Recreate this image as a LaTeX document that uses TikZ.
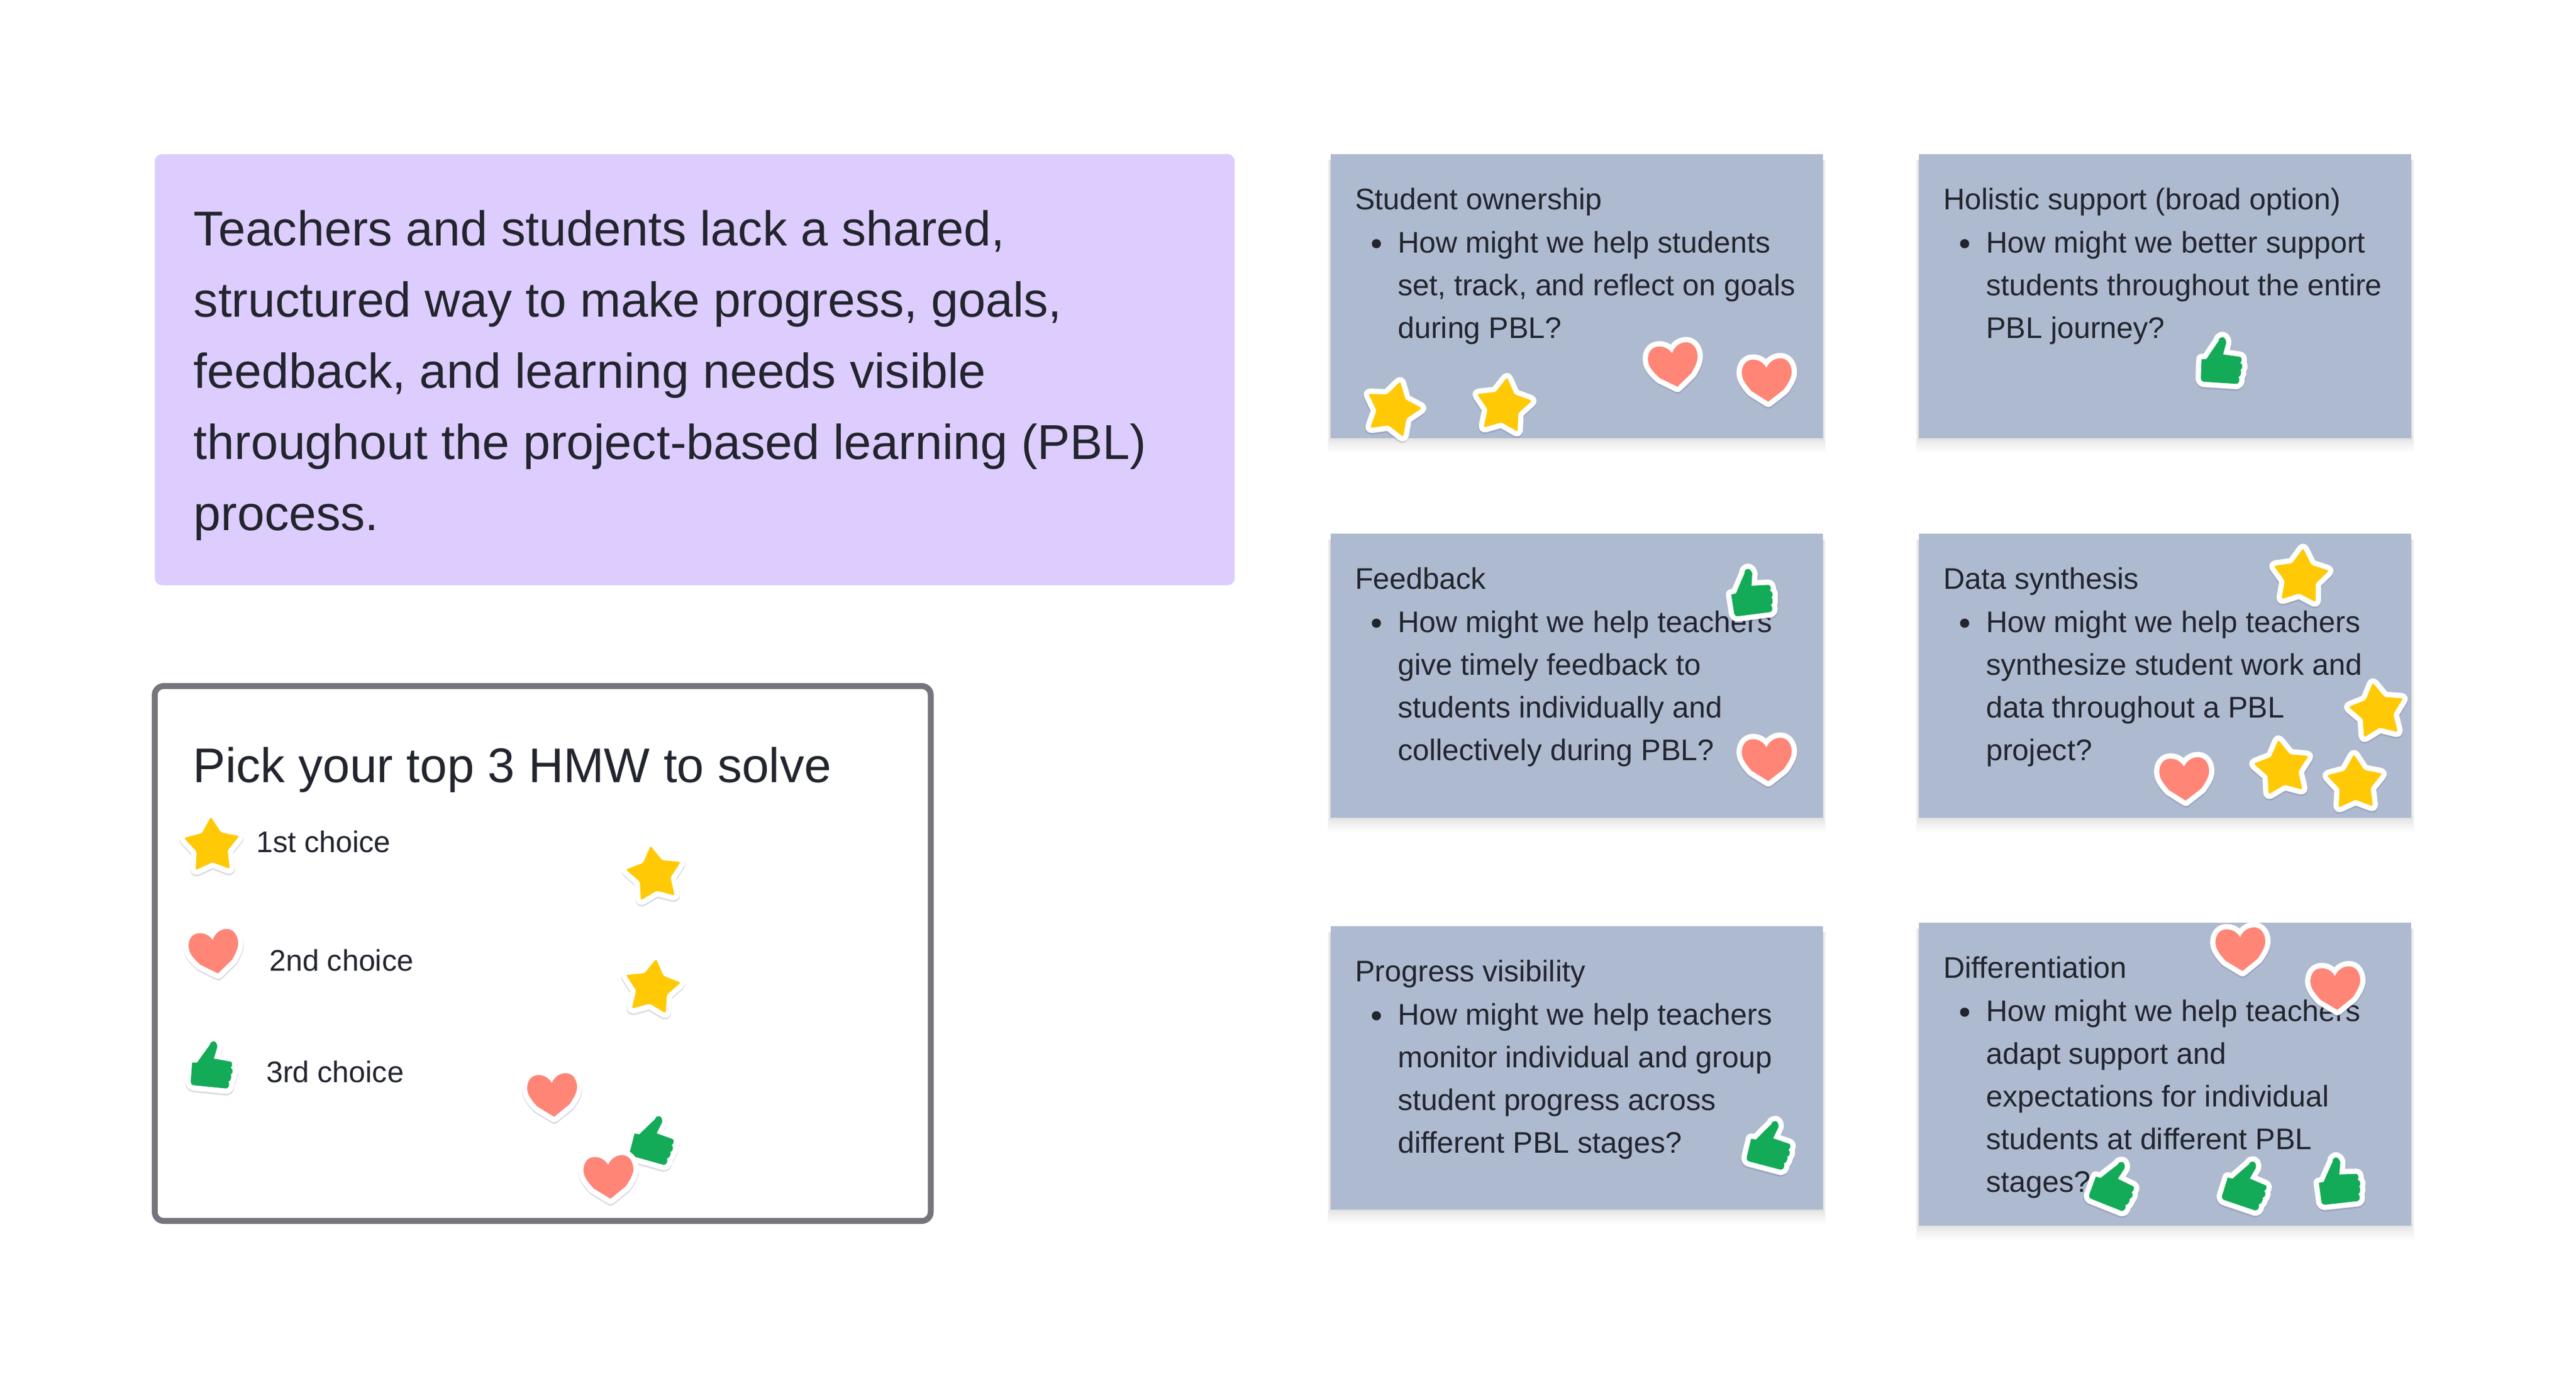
\documentclass[tikz,border=0pt]{standalone}
\usepackage{fontspec}
\setmainfont{Liberation Sans}
\usepackage{xcolor}
\definecolor{ink}{RGB}{34,37,46}
\definecolor{lilac}{RGB}{221,205,255}
\definecolor{slate}{RGB}{174,186,207}
\definecolor{rim}{RGB}{117,117,126}
\definecolor{gold}{RGB}{255,201,5}
\definecolor{coral}{RGB}{255,133,119}
\definecolor{leaf}{RGB}{20,171,88}
\definecolor{halo}{RGB}{90,85,130}
\usetikzlibrary{backgrounds}

\newcommand{\cardfont}{\fontsize{14.3}{20.49}\selectfont}
\newcommand{\bigfont}{\fontsize{23.5}{34.14}\selectfont}
\newcommand{\pickfont}{\fontsize{23.35}{34.14}\selectfont}
\newcommand{\starpath}{(90:.49)--(126:.275)--(162:.49)--(198:.275)--(234:.49)--(270:.275)--(306:.49)--(342:.275)--(18:.49)--(54:.275)--cycle}
\newcommand{\heartpath}{(0,.21) .. controls (.05,.31) and (.14,.36) .. (.23,.36) .. controls (.35,.36) and (.42,.26) .. (.42,.13) .. controls (.42,.02) and (.34,-.08) .. (.27,-.17) -- (0,-.36) -- (-.27,-.17)}
\newcommand{\heartback}{.. controls (-.34,-.08) and (-.42,.02) .. (-.42,.13) .. controls (-.42,.26) and (-.35,.36) .. (-.23,.36) .. controls (-.14,.36) and (-.05,.31) .. (0,.21) -- cycle}
\newcommand{\thumbpath}{(-.347,-.267)--(-.323,.05)--(-.24,.05)--(-.157,.167)--(-.023,.35) .. controls (-.02,.42) and (.09,.45) .. (.103,.317) --(.043,.117)--(.327,.067) .. controls (.36,.06) and (.36,-.02) .. (.327,-.033) .. controls (.37,-.05) and (.37,-.14) .. (.327,-.15) .. controls (.35,-.17) and (.33,-.27) .. (.287,-.273) .. controls (.31,-.29) and (.31,-.38) .. (.253,-.387)--(-.29,-.333) .. controls (-.33,-.33) and (-.347,-.3) .. (-.347,-.267)--cycle}

\tikzset{
	cardbox/.style={fill=slate,anchor=north west,minimum width=8.3cm,inner sep=0,outer sep=0},
	cardshade/.style={black,opacity=.014},
	cardtitle/.style={anchor=base west,inner sep=0,font=\cardfont,text=ink},
	carddot/.style={circle,fill=ink,inner sep=0,minimum size=.155cm},
	cardtext/.style={anchor=north west,inner sep=0,font=\cardfont,text=ink,align=left},
	stkhalo/.style={draw=halo,opacity=.22,line width=.185cm,line join=round,shift={(0,-.025)}},
	stkedge/.style={draw=white,fill=white,line width=.18cm,line join=round},
	goldstar/.pic={
		\begin{scope}[shift={(0,-.05)}]
			\path[stkhalo,rounded corners=.03cm] \starpath;
			\path[stkedge,rounded corners=.03cm] \starpath;
			\fill[gold,rounded corners=.03cm] \starpath;
		\end{scope}
	},
	coralheart/.pic={
		\path[stkhalo] \heartpath \heartback;
		\path[stkedge] \heartpath \heartback;
		\fill[coral] \heartpath \heartback;
	},
	leafthumb/.pic={
		\path[stkhalo] \thumbpath;
		\path[stkedge] \thumbpath;
		\fill[leaf] \thumbpath;
	}
}

% card with its shadow, title, bullet and question
\newcommand{\hmwcard}[6]{
	\node[cardbox,minimum height=#4cm] (#1) at (#2,#3) {};
	\begin{scope}[on background layer]
		\foreach \k in {1,...,9}
			\fill[cardshade] ([shift={(-.006*\k,-.1)}]#1.north west) rectangle ([shift={(.006*\k,-.003*\k*\k)}]#1.south east);
	\end{scope}
	\node[cardtitle] (#1title) at ([shift={(.405,-.935)}]#1.north west) {#5};
	\node[carddot] (#1dot) at ([shift={(.77,-1.51)}]#1.north west) {};
	\node[cardtext] (#1text) at ([shift={(1.125,-1.155)}]#1.north west) {\strut #6};
}

\begin{document}
\begin{tikzpicture}
	\useasboundingbox (0,0) rectangle (43.44,23.6);

	% problem statement
	\node[fill=lilac,rounded corners=.12cm,anchor=north west,minimum width=18.21cm,minimum height=7.27cm,inner sep=0,outer sep=0] (problem) at (2.61,21) {};
	\node[anchor=north west,inner sep=0,font=\bigfont,text=ink,align=left] (problemtext) at (3.26,20.301) {\strut Teachers and students lack a shared,\\structured way to make progress, goals,\\feedback, and learning needs visible\\throughout the project-based learning (PBL)\\process.};

	% legend panel
	\node[draw=rim,line width=.1cm,rounded corners=.15cm,anchor=north west,minimum width=13.085cm,minimum height=9.02cm,inner sep=0,outer sep=0] (pick) at (2.61,12.03) {};
	\node[anchor=base west,inner sep=0,font=\pickfont,text=ink] (picktitle) at (3.25,10.41) {Pick your top 3 HMW to solve};
	\node[cardtitle] (first) at (4.32,9.22) {1st choice};
	\node[cardtitle] (second) at (4.535,7.23) {2nd choice};
	\node[cardtitle] (third) at (4.485,5.35) {3rd choice};

	% HMW cards
	\hmwcard{own}{22.44}{21}{4.79}{Student ownership}{How might we help students\\set, track, and reflect on goals\\during PBL?}
	\hmwcard{hol}{32.36}{21}{4.79}{Holistic support (broad option)}{How might we better support\\students throughout the entire\\PBL journey?}
	\hmwcard{fee}{22.44}{14.6}{4.79}{Feedback}{How might we help teachers\\give timely feedback to\\students individually and\\collectively during PBL?}
	\hmwcard{dat}{32.36}{14.6}{4.79}{Data synthesis}{How might we help teachers\\synthesize student work and\\data throughout a PBL\\project?}
	\hmwcard{pro}{22.44}{7.98}{4.78}{Progress visibility}{How might we help teachers\\monitor individual and group\\student progress across\\different PBL stages?}
	\hmwcard{dif}{32.36}{8.04}{5.11}{Differentiation}{How might we help teachers\\adapt support and\\expectations for individual\\students at different PBL\\stages?}

	% stickers
	\foreach \x/\y/\r in {3.563/5.63/0,11.01/4.38/-10,37.45/17.504/2,29.52/13.598/13,29.84/4.295/-9,35.64/3.62/-16,37.87/3.62/-13,39.43/3.67/12}
		\pic[rotate=\r] at (\x,\y) {leafthumb};
	\foreach \x/\y/\r in {3.572/9.383/2,11.03/8.9/8,11.004/6.994/-8,23.5/16.74/-15,25.36/16.798/-7,38.8/13.916/-5,40.08/11.65/9,38.48/10.686/8,39.71/10.438/2}
		\pic[rotate=\r] at (\x,\y) {goldstar};
	\foreach \x/\y/\r in {3.62/7.54/9,9.32/5.126/4,10.27/3.744/4,28.23/17.434/9,29.8/17.186/3,29.8/10.786/3,36.84/10.458/3,37.79/7.584/4,39.39/6.928/4}
		\pic[rotate=\r] at (\x,\y) {coralheart};
\end{tikzpicture}
\end{document}
